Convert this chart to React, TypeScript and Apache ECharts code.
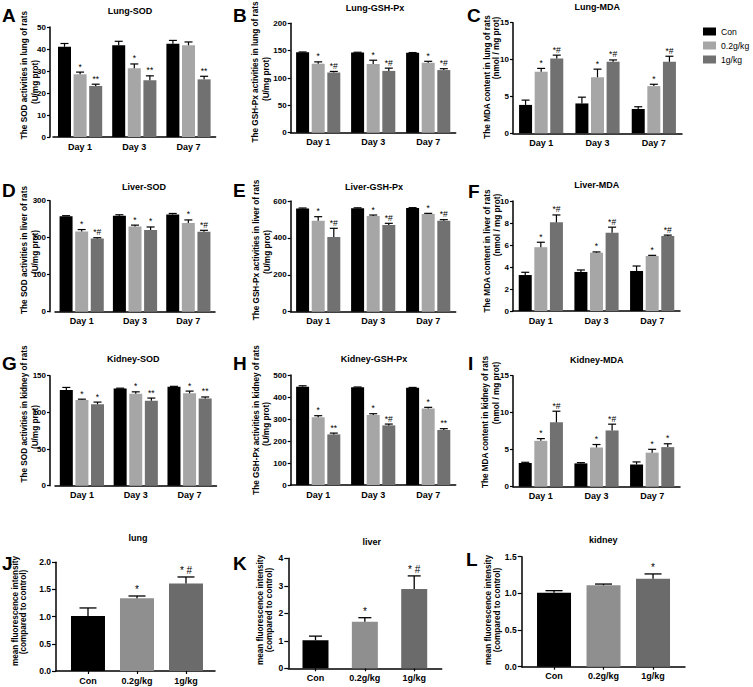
import React, { useEffect, useRef } from "react";
import * as echarts from "echarts";

const FONT = "'Liberation Sans', Arial, Helvetica, sans-serif";

const days = ["Day 1", "Day 3", "Day 7"];
const groups = ["Con", "0.2g/kg", "1g/kg"];

// rows: Con, 0.2g/kg, 1g/kg ; columns: Day 1, Day 3, Day 7
const lungSodMean = [[41, 41.7, 42.4], [28.5, 31.2, 41.7], [23.2, 25.8, 26.2]];
const lungSodErr = [[1.5, 1.8, 1.5], [1.0, 2.0, 1.5], [0.8, 2.0, 1.4]];
const lungSodMarks = [["", "", ""], ["*", "*", ""], ["**", "**", "**"]];

const lungGshMean = [[147, 146.5, 146], [126, 125.5, 128], [110, 113, 114.5]];
const lungGshErr = [[0.6, 0.6, 0.5], [3.5, 7, 2.5], [2, 5, 2.5]];
const lungGshMarks = [["", "", ""], ["*", "*", "*"], ["*#", "*#", "*#"]];

const lungMdaMean = [[3.85, 4.05, 3.3], [8.35, 7.6, 6.4], [10.15, 9.7, 9.7]];
const lungMdaErr = [[0.65, 0.85, 0.3], [0.45, 1.1, 0.25], [0.45, 0.25, 0.75]];
const lungMdaMarks = [["", "", ""], ["*", "*", "*"], ["*#", "*#", "*#"]];

const liverSodMean = [[258, 259, 263], [217, 230, 240], [198, 221, 216]];
const liverSodErr = [[1.5, 3, 2.5], [5, 4, 8], [2, 8, 4]];
const liverSodMarks = [["", "", ""], ["*", "*", "*"], ["*#", "*", "*#"]];

const liverGshMean = [[560, 561, 562], [493, 519, 530], [405, 470, 493]];
const liverGshErr = [[2, 2, 2], [22, 5, 3], [47, 9, 6]];
const liverGshMarks = [["", "", ""], ["*", "*", "*"], ["*#", "*#", "*#"]];

const liverMdaMean = [[3.27, 3.55, 3.64], [5.8, 5.3, 5.0], [8.06, 7.12, 6.82]];
const liverMdaErr = [[0.25, 0.18, 0.45], [0.45, 0.07, 0.06], [0.67, 0.5, 0.08]];
const liverMdaMarks = [["", "", ""], ["*", "*", "*"], ["*#", "*#", "*#"]];

const kidneySodMean = [[130.5, 132.5, 135], [117, 125.5, 126], [111, 116, 119]];
const kidneySodErr = [[3.5, 0.5, 0.5], [1, 2.5, 3], [3, 3.5, 2]];
const kidneySodMarks = [["", "", ""], ["*", "*", "*"], ["*", "**", "**"]];

const kidneyGshMean = [[447, 444, 442], [308, 318, 348], [230, 271, 250]];
const kidneyGshErr = [[4, 1.5, 1.5], [7, 6, 5], [6, 6, 6]];
const kidneyGshMarks = [["", "", ""], ["*", "*", "*"], ["**", "*#", "**"]];

const kidneyMdaMean = [[3.2, 3.15, 3.0], [6.2, 5.3, 4.6], [8.7, 7.6, 5.35]];
const kidneyMdaErr = [[0.1, 0.1, 0.35], [0.3, 0.4, 0.45], [1.5, 0.85, 0.45]];
const kidneyMdaMarks = [["", "", ""], ["*", "*", "*"], ["*#", "*#", "*"]];

// fluorescence: Con, 0.2g/kg, 1g/kg
const fluorLungMean = [1.01, 1.34, 1.61];
const fluorLungErr = [0.15, 0.04, 0.12];
const fluorLungMarks = ["", "*", "* #"];

const fluorLiverMean = [1.02, 1.69, 2.88];
const fluorLiverErr = [0.15, 0.15, 0.48];
const fluorLiverMarks = ["", "*", "* #"];

const fluorKidneyMean = [1.01, 1.11, 1.2];
const fluorKidneyErr = [0.027, 0.017, 0.065];
const fluorKidneyMarks = ["", "", "*"];

const groupColors = ["#000000", "#a6a6a6", "#717171"];
const fluorColors = ["#000000", "#8f8f8f", "#6b6b6b"];

type GroupPanel = {
  letter: string; lx: number; ly: number;
  title: string; mean: number[][]; err: number[][]; marks: string[][];
  max: number; interval: number;
  left: number; top: number; width: number; height: number; yOffset: number;
  tx: number; ty: number; yt: [string, string]; y1: [number, number]; y2: [number, number];
};

const groupPanels: GroupPanel[] = [
  { letter: "A", lx: 2, ly: 15, title: "Lung-SOD", mean: lungSodMean, err: lungSodErr, marks: lungSodMarks, max: 50, interval: 10,
    left: 53, top: 27, width: 162.6, height: 110, yOffset: 3, tx: 130, ty: 11,
    yt: ["The SOD activities in lung of rats", "(U/mg prot)"], y1: [24.5, 75], y2: [35, 82] },
  { letter: "B", lx: 233, ly: 15, title: "Lung-GSH-Px", mean: lungGshMean, err: lungGshErr, marks: lungGshMarks, max: 200, interval: 50,
    left: 290.7, top: 23.3, width: 165, height: 109.4, yOffset: 0, tx: 375, ty: 8.3,
    yt: ["The GSH-Px activities in lung of rats", "(U/mg prot)"], y1: [255, 72], y2: [266, 79] },
  { letter: "C", lx: 467, ly: 15, title: "Lung-MDA", mean: lungMdaMean, err: lungMdaErr, marks: lungMdaMarks, max: 15, interval: 5,
    left: 513, top: 22.7, width: 169, height: 110.6, yOffset: 0, tx: 597.3, ty: 6.7,
    yt: ["The MDA content in lung of rats", "(nmol / mg prot)"], y1: [487.3, 77], y2: [496.7, 48] },
  { letter: "D", lx: 2, ly: 190, title: "Liver-SOD", mean: liverSodMean, err: liverSodErr, marks: liverSodMarks, max: 300, interval: 100,
    left: 55, top: 200.7, width: 160, height: 111, yOffset: 5, tx: 144, ty: 186.7,
    yt: ["The SOD activities in liver of rats", "(U/mg prot)"], y1: [24.5, 250], y2: [35.5, 252] },
  { letter: "E", lx: 233, ly: 190, title: "Liver-GSH-Px", mean: liverGshMean, err: liverGshErr, marks: liverGshMarks, max: 600, interval: 200,
    left: 290.7, top: 201, width: 165, height: 110.7, yOffset: 0, tx: 374, ty: 186.7,
    yt: ["The GSH-Px activities in liver of rats", "(U/mg prot)"], y1: [256.5, 250], y2: [267.5, 252] },
  { letter: "F", lx: 468, ly: 191, title: "Liver-MDA", mean: liverMdaMean, err: liverMdaErr, marks: liverMdaMarks, max: 10, interval: 2,
    left: 513, top: 201, width: 167, height: 110, yOffset: 0, tx: 596.7, ty: 185,
    yt: ["The MDA content in liver of rats", "(nmol / mg prot)"], y1: [487, 251], y2: [497.5, 225] },
  { letter: "G", lx: 2, ly: 363, title: "Kidney-SOD", mean: kidneySodMean, err: kidneySodErr, marks: kidneySodMarks, max: 150, interval: 50,
    left: 55, top: 375.7, width: 161.5, height: 110, yOffset: 5, tx: 133.3, ty: 359,
    yt: ["The SOD activities in kidney of rats", "(U/mg prot)"], y1: [24.5, 414], y2: [35.5, 427] },
  { letter: "H", lx: 233, ly: 363, title: "Kidney-GSH-Px", mean: kidneyGshMean, err: kidneyGshErr, marks: kidneyGshMarks, max: 500, interval: 100,
    left: 290.7, top: 375, width: 165, height: 110, yOffset: 0, tx: 374, ty: 359,
    yt: ["The GSH-Px activities in kidney of rats", "(U/mg prot)"], y1: [256, 420], y2: [266.5, 424] },
  { letter: "I", lx: 468, ly: 363, title: "Kidney-MDA", mean: kidneyMdaMean, err: kidneyMdaErr, marks: kidneyMdaMarks, max: 15, interval: 5,
    left: 513, top: 375.7, width: 167, height: 111, yOffset: 0, tx: 596.7, ty: 360,
    yt: ["The MDA content in kidney of rats", "(nmol / mg prot)"], y1: [485, 422], y2: [496.5, 393] },
];

type FluorPanel = {
  letter: string; lx: number; ly: number;
  title: string; mean: number[]; err: number[]; marks: string[];
  max: number; interval: number; decimals: number;
  left: number; top: number; width: number; height: number;
  xmin: number; xmax: number; bw: number;
  tx: number; ty: number; y1: [number, number]; y2: [number, number];
};

const fluorPanels: FluorPanel[] = [
  { letter: "J", lx: 2, ly: 563, title: "lung", mean: fluorLungMean, err: fluorLungErr, marks: fluorLungMarks, max: 2, interval: 0.5, decimals: 1,
    left: 56, top: 562.3, width: 159, height: 108.7, xmin: 0.347, xmax: 3.592, bw: 34, tx: 138, ty: 538.3, y1: [15, 611], y2: [23.3, 612] },
  { letter: "K", lx: 233, ly: 563, title: "liver", mean: fluorLiverMean, err: fluorLiverErr, marks: fluorLiverMarks, max: 4, interval: 1, decimals: 0,
    left: 288.3, top: 558.3, width: 153.4, height: 110, xmin: 0.449, xmax: 3.557, bw: 26, tx: 371.7, ty: 541.7, y1: [260, 610], y2: [269, 610] },
  { letter: "L", lx: 466, ly: 559, title: "kidney", mean: fluorKidneyMean, err: fluorKidneyErr, marks: fluorKidneyMarks, max: 1.5, interval: 0.5, decimals: 1,
    left: 521.7, top: 556.7, width: 163.3, height: 110, xmin: 0.347, xmax: 3.646, bw: 34, tx: 603.3, ty: 540, y1: [488, 610], y2: [497, 610] },
];

const axisLineStyle = { color: "#000", width: 1.5 };
const tickStyle = { color: "#000", width: 1.2 };

function textEl(text: string, x: number, y: number, size: number, bold: boolean, rotate = 0, align = "center") {
  return {
    type: "text",
    x,
    y,
    rotation: rotate,
    silent: true,
    style: {
      text,
      fontSize: size,
      fontWeight: bold ? "bold" : "normal",
      fontFamily: FONT,
      fill: "#000",
      textAlign: align,
      textVerticalAlign: "middle",
    },
  };
}

function buildOption() {
  const grid: any[] = [];
  const xAxis: any[] = [];
  const yAxis: any[] = [];
  const series: any[] = [];
  const graphic: any[] = [];

  groupPanels.forEach((p, i) => {
    grid.push({ left: p.left, top: p.top, width: p.width, height: p.height, containLabel: false, outerBoundsMode: "none" });
    xAxis.push({
      type: "category", gridIndex: i, data: days,
      axisLine: { onZero: false, lineStyle: axisLineStyle },
      axisTick: { alignWithLabel: true, length: 3, lineStyle: tickStyle },
      axisLabel: { color: "#000", fontSize: 9, fontWeight: "bold", fontFamily: FONT, margin: 5 },
      splitLine: { show: false },
    });
    yAxis.push({
      type: "value", gridIndex: i, min: 0, max: p.max, interval: p.interval, offset: p.yOffset,
      axisLine: { show: true, lineStyle: axisLineStyle },
      axisTick: { show: true, length: 3, lineStyle: tickStyle },
      axisLabel: { color: "#000", fontSize: 8, fontWeight: "bold", fontFamily: FONT, margin: 4 },
      splitLine: { show: false },
    });
    groups.forEach((g, s) => {
      series.push({
        type: "bar", name: g, xAxisIndex: i, yAxisIndex: i, data: p.mean[s],
        barWidth: 13, barGap: "20%", itemStyle: { color: groupColors[s] }, silent: true,
      });
    });
    const data: number[][] = [];
    const labels: string[] = [];
    p.mean.forEach((row, s) =>
      row.forEach((v, c) => {
        data.push([c, v, v + p.err[s][c], s]);
        labels.push(p.marks[s][c]);
      })
    );
    const step = 13 * 1.2;
    series.push({
      type: "custom", xAxisIndex: i, yAxisIndex: i, data, z: 5, silent: true,
      dimensions: ["c", "v", "t", "s"],
      encode: { x: 0, y: [1, 2] },
      renderItem: (params: any, api: any) => {
        const c = api.value(0);
        const s = api.value(3);
        const p0 = api.coord([c, api.value(1)]);
        const p1 = api.coord([c, api.value(2)]);
        const x = p0[0] + (s - 1) * step;
        const children: any[] = [
          { type: "line", shape: { x1: x, y1: p0[1], x2: x, y2: p1[1] }, style: { stroke: "#000", lineWidth: 1.2 } },
          { type: "line", shape: { x1: x - 4, y1: p1[1], x2: x + 4, y2: p1[1] }, style: { stroke: "#000", lineWidth: 1.2 } },
        ];
        const lab = labels[params.dataIndex];
        if (lab) {
          children.push({
            type: "text", x, y: p1[1] - 1,
            style: { text: lab, fontSize: 8.5, fontFamily: FONT, fill: "#000", textAlign: "center", textVerticalAlign: "bottom" },
          });
        }
        return { type: "group", children };
      },
    });
    graphic.push(textEl(p.title, p.tx, p.ty, 9, true));
    graphic.push(textEl(p.yt[0], p.y1[0], p.y1[1], 8.2, true, Math.PI / 2));
    graphic.push(textEl(p.yt[1], p.y2[0], p.y2[1], 8.2, true, Math.PI / 2));
    graphic.push(textEl(p.letter, p.lx, p.ly, 19, true, 0, "left"));
  });

  fluorPanels.forEach((p, k) => {
    const i = groupPanels.length + k;
    grid.push({ left: p.left, top: p.top, width: p.width, height: p.height, containLabel: false, outerBoundsMode: "none" });
    xAxis.push({
      type: "value", gridIndex: i, min: p.xmin, max: p.xmax,
      axisLine: { onZero: false, lineStyle: axisLineStyle },
      axisTick: { show: true, length: 3, lineStyle: tickStyle, customValues: [1, 2, 3] },
      axisLabel: {
        color: "#000", fontSize: 9, fontWeight: "bold", fontFamily: FONT, margin: 5,
        customValues: [1, 2, 3],
        formatter: (v: number) => groups[Math.round(v) - 1] || "",
      },
      splitLine: { show: false },
    });
    yAxis.push({
      type: "value", gridIndex: i, min: 0, max: p.max, interval: p.interval,
      axisLine: { show: true, lineStyle: axisLineStyle },
      axisTick: { show: true, length: 4, lineStyle: tickStyle },
      axisLabel: {
        color: "#000", fontSize: 8.5, fontWeight: "bold", fontFamily: FONT, margin: 5,
        formatter: (v: number) => v.toFixed(p.decimals),
      },
      splitLine: { show: false },
    });
    series.push({
      type: "bar", name: "fluor-" + p.title, xAxisIndex: i, yAxisIndex: i, barWidth: p.bw, silent: true,
      data: p.mean.map((v, j) => ({ value: [j + 1, v], itemStyle: { color: fluorColors[j] } })),
    });
    const data = p.mean.map((v, j) => [j + 1, v, v + p.err[j]]);
    const cap = p.bw * 0.25;
    series.push({
      type: "custom", xAxisIndex: i, yAxisIndex: i, data, z: 5, silent: true,
      dimensions: ["x", "v", "t"],
      encode: { x: 0, y: [1, 2] },
      renderItem: (params: any, api: any) => {
        const p0 = api.coord([api.value(0), api.value(1)]);
        const p1 = api.coord([api.value(0), api.value(2)]);
        const x = p0[0];
        const children: any[] = [
          { type: "line", shape: { x1: x, y1: p0[1], x2: x, y2: p1[1] }, style: { stroke: "#000", lineWidth: 1.3 } },
          { type: "line", shape: { x1: x - cap, y1: p1[1], x2: x + cap, y2: p1[1] }, style: { stroke: "#000", lineWidth: 1.3 } },
        ];
        const lab = p.marks[params.dataIndex];
        if (lab) {
          children.push({
            type: "text", x, y: p1[1] - 1,
            style: { text: lab, fontSize: 10, fontFamily: FONT, fill: "#000", textAlign: "center", textVerticalAlign: "bottom" },
          });
        }
        return { type: "group", children };
      },
    });
    graphic.push(textEl(p.title, p.tx, p.ty, 9, true));
    graphic.push(textEl("mean fluorescence intensity", p.y1[0], p.y1[1], 8.2, true, Math.PI / 2));
    graphic.push(textEl("(compared to control)", p.y2[0], p.y2[1], 8.2, true, Math.PI / 2));
    graphic.push(textEl(p.letter, p.lx, p.ly, 19, true, 0, "left"));
  });

  return {
    animation: false,
    backgroundColor: "#ffffff",
    grid,
    xAxis,
    yAxis,
    series,
    graphic,
    legend: {
      data: groups,
      orient: "vertical",
      left: 703,
      top: 27,
      itemWidth: 13,
      itemHeight: 8,
      itemGap: 5,
      icon: "rect",
      selectedMode: false,
      padding: 0,
      textStyle: { fontSize: 8.6, color: "#000", fontFamily: FONT, overflow: "none", width: 40 },
    },
  };
}

export default function App() {
  const ref = useRef<HTMLDivElement>(null);
  useEffect(() => {
    if (!ref.current) return;
    const chart = echarts.init(ref.current, undefined, { renderer: "svg" });
    chart.setOption(buildOption() as any);
    return () => chart.dispose();
  }, []);
  return (
    <div
      ref={ref}
      style={{ position: "absolute", left: 0, top: 0, width: 753, height: 687, background: "#fff" }}
    />
  );
}
